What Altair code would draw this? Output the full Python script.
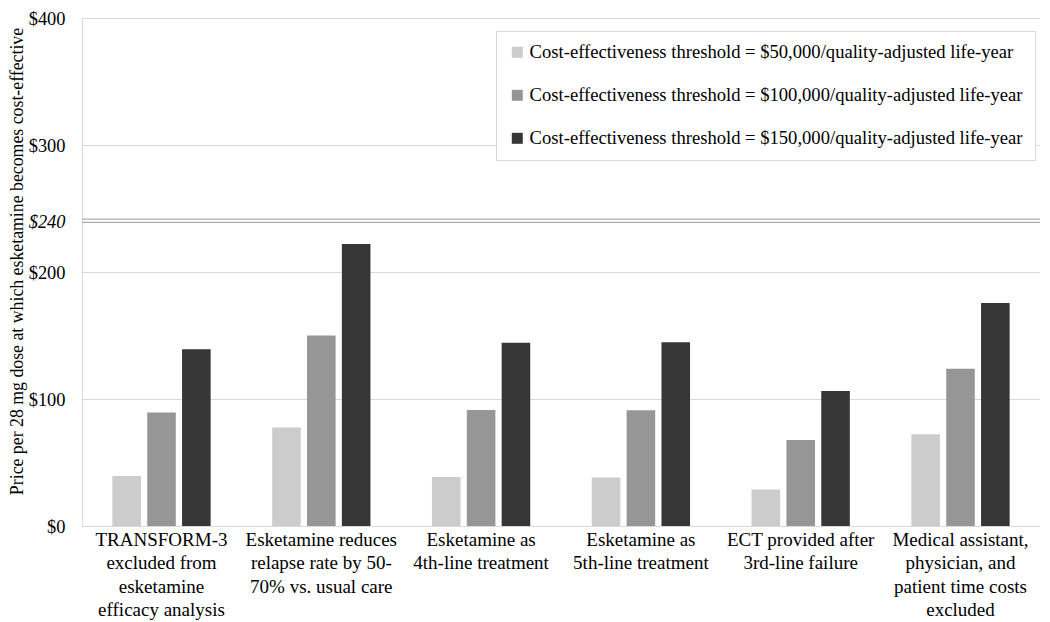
import altair as alt
import pandas as pd

categories = [
    "TRANSFORM-3\nexcluded from\nesketamine\nefficacy analysis",
    "Esketamine reduces\nrelapse rate by 50-\n70% vs. usual care",
    "Esketamine as\n4th-line treatment",
    "Esketamine as\n5th-line treatment",
    "ECT provided after\n3rd-line failure",
    "Medical assistant,\nphysician, and\npatient time costs\nexcluded",
]
series = [
    "Cost-effectiveness threshold = $50,000/quality-adjusted life-year",
    "Cost-effectiveness threshold = $100,000/quality-adjusted life-year",
    "Cost-effectiveness threshold = $150,000/quality-adjusted life-year",
]
v50 = [39.4, 77.5, 38.6, 38.1, 28.8, 72.3]
v100 = [89.3, 150.0, 91.4, 91.1, 67.7, 123.8]
v150 = [139.2, 222.0, 144.2, 144.7, 106.3, 175.5]
colors = ["#cccccc", "#969696", "#363636"]
y_ticks = [0, 100, 200, 240, 300, 400]
break_lines = [239.0, 241.6]

rows = []
for s, vals in zip(series, [v50, v100, v150]):
    for c, v in zip(categories, vals):
        rows.append({"cat": c, "series": s, "value": v})
df = pd.DataFrame(rows)

FONT = "Liberation Serif, Times New Roman, serif"
FS = 19
W, H = 958, 508

bars = alt.Chart(df).mark_bar().encode(
    x=alt.X("cat:N", sort=categories,
            scale=alt.Scale(paddingInner=0.385, paddingOuter=0.19),
            axis=alt.Axis(title=None, labelAngle=0, labelExpr="split(datum.label, '\\n')",
                          labelFont=FONT, labelFontSize=FS, labelColor="#000000",
                          labelLineHeight=23.5, labelPadding=4, ticks=False,
                          domainColor="#d9d9d9", labelLimit=200)),
    xOffset=alt.XOffset("series:N", sort=series,
                        scale=alt.Scale(paddingInner=0.18, paddingOuter=0)),
    y=alt.Y("value:Q", scale=alt.Scale(domain=[0, 400], nice=False),
            axis=alt.Axis(values=y_ticks,
                          labelExpr="'$' + datum.value",
                          labelFontStyle=alt.expr("datum.value == 240 ? 'italic' : 'normal'"),
                          gridOpacity=alt.expr("datum.value == 240 ? 0 : 1"),
                          gridColor="#d9d9d9", domainColor="#d9d9d9",
                          ticks=False, labelPadding=17,
                          labelFont=FONT, labelFontSize=18.4, labelColor="#000000",
                          title="Price per 28 mg dose at which esketamine becomes cost-effective",
                          titleFont=FONT, titleFontSize=17.8, titleFontWeight="normal",
                          titleColor="#000000", titleX=-64.5, titleY=243,
                          titleAlign="center", titleBaseline="middle", titleAngle=270)),
    color=alt.Color("series:N", sort=series,
                    scale=alt.Scale(domain=series, range=colors),
                    legend=alt.Legend(title=None, orient="none", legendX=414, legendY=13,
                                      labelFont=FONT, labelFontSize=18.6, labelColor="#000000",
                                      symbolType="square", symbolSize=121, symbolStrokeWidth=0,
                                      rowPadding=24, padding=12, strokeColor="#d9d9d9",
                                      fillColor="#ffffff", labelLimit=700, labelOffset=3)),
)

breaks = alt.Chart(pd.DataFrame({"y": break_lines})).mark_rule(
    color="#ababab", strokeWidth=1.3).encode(y="y:Q")

chart = alt.layer(breaks, bars).properties(
    width=W, height=H,
    autosize=alt.AutoSizeParams(type="none"),
    padding={"left": 74, "top": 10, "right": 0, "bottom": 96},
).configure_view(stroke=None).configure(background="#ffffff")

chart.save("out.html", embed_options={"renderer": "svg", "actions": False})
